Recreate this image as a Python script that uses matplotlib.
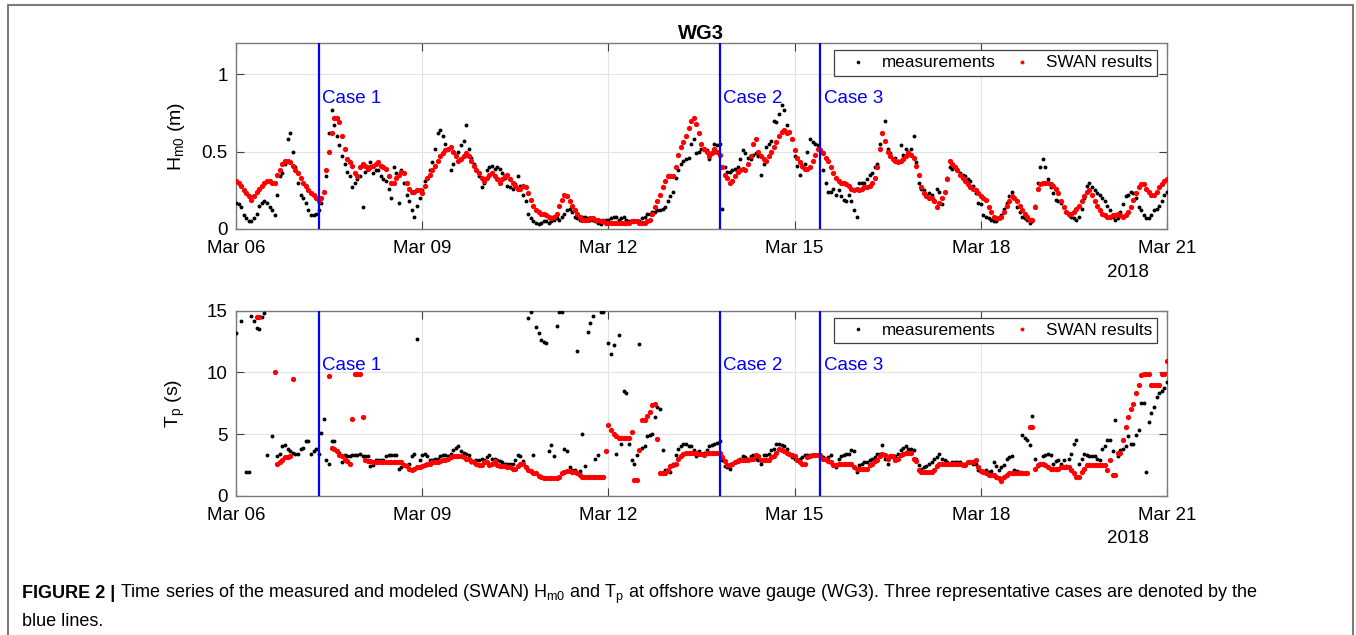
import numpy as np
import pandas as pd
import matplotlib
matplotlib.use('Agg')
import matplotlib.pyplot as plt
import matplotlib.dates as mdates
from matplotlib.lines import Line2D

plt.rcParams['font.family'] = 'Liberation Sans'
plt.rcParams['mathtext.fontset'] = 'custom'
plt.rcParams['mathtext.rm'] = 'Liberation Sans'
plt.rcParams['mathtext.it'] = 'Liberation Sans:italic'
plt.rcParams['mathtext.bf'] = 'Liberation Sans:bold'

nan = np.nan

# Hourly record, split into even hours (00h, 02h, ...) and odd hours (01h, 03h, ...)
tempo_par = pd.date_range('2018-03-06 00:00', '2018-03-21 00:00', freq='2h')
tempo_impar = pd.date_range('2018-03-06 01:00', '2018-03-20 23:00', freq='2h')

# Significant wave height Hm0 (m) - measurements
hs_medido = [
    0.17, 0.14, 0.07, 0.05, 0.10, 0.17, 0.17, 0.12, 0.22, 0.36, 0.58, 0.50,
    0.30, 0.20, 0.12, 0.09, 0.12, 0.24, 0.62, 0.67, 0.54, 0.42, 0.34, 0.30,
    0.34, 0.37, 0.43, 0.38, 0.34, 0.31, 0.20, 0.36, 0.38, 0.22, 0.12, 0.15,
    0.25, 0.33, 0.43, 0.62, 0.60, 0.52, 0.42, 0.50, 0.57, 0.52, 0.42, 0.34,
    0.30, 0.40, 0.39, 0.39, 0.33, 0.27, 0.29, 0.28, 0.18, 0.07, 0.04, 0.04,
    0.05, 0.05, 0.07, 0.08, 0.12, 0.11, 0.07, 0.08, 0.07, 0.06, 0.04, 0.06,
    0.06, 0.08, 0.06, 0.08, 0.05, 0.05, 0.05, 0.08, 0.10, 0.11, 0.12, 0.14,
    0.21, 0.33, 0.42, 0.45, 0.55, 0.49, 0.52, 0.51, 0.50, 0.54, 0.13, 0.37,
    0.38, 0.40, 0.51, 0.46, 0.48, 0.47, 0.42, 0.55, 0.70, 0.74, 0.77, 0.63,
    0.47, 0.35, 0.42, 0.58, 0.55, 0.52, 0.30, 0.24, 0.22, 0.21, 0.18, 0.18,
    0.08, 0.30, 0.32, 0.36, 0.42, 0.62, 0.52, 0.45, 0.44, 0.48, 0.50, 0.60,
    0.30, 0.25, 0.23, 0.19, 0.24, 0.24, 0.40, 0.40, 0.36, 0.34, 0.31, 0.23,
    0.16, 0.08, 0.06, 0.05, 0.09, 0.17, 0.24, 0.14, 0.08, 0.06, 0.05, 0.30,
    0.45, 0.32, 0.23, 0.18, 0.14, 0.09, 0.07, 0.08, 0.20, 0.30, 0.25, 0.22,
    0.18, 0.12, 0.06, 0.11, 0.21, 0.24, 0.20, 0.12, 0.07, 0.09, 0.13, 0.18,
    0.24,
]
hs_medido_impar = [
    0.16, 0.09, 0.05, 0.07, 0.15, 0.18, 0.14, 0.09, 0.34, 0.42, 0.62, 0.40,
    0.22, 0.17, 0.09, 0.10, 0.17, 0.34, 0.77, 0.60, 0.47, 0.37, 0.27, 0.32,
    0.14, 0.40, 0.36, 0.38, 0.32, 0.26, 0.40, 0.17, 0.30, 0.18, 0.08, 0.20,
    0.31, 0.38, 0.52, 0.64, 0.55, 0.38, 0.48, 0.54, 0.67, 0.46, 0.38, 0.27,
    0.38, 0.41, 0.40, 0.36, 0.28, 0.26, 0.34, 0.22, 0.10, 0.05, 0.03, 0.05,
    0.04, 0.06, 0.06, 0.10, 0.13, 0.08, 0.06, 0.08, 0.06, 0.05, 0.03, 0.06,
    0.07, 0.08, 0.07, 0.06, 0.05, 0.05, 0.07, 0.10, 0.11, 0.12, 0.13, 0.18,
    0.24, 0.38, 0.44, 0.46, 0.58, 0.50, 0.52, 0.45, 0.55, 0.55, 0.40, 0.37,
    0.39, 0.45, 0.49, 0.45, 0.49, 0.35, 0.53, 0.57, 0.69, 0.80, 0.67, 0.58,
    0.41, 0.40, 0.50, 0.56, 0.54, 0.38, 0.24, 0.26, 0.25, 0.19, 0.22, 0.12,
    0.30, 0.30, 0.35, 0.40, 0.55, 0.70, 0.49, 0.46, 0.54, 0.52, 0.52, 0.43,
    0.26, 0.22, 0.22, 0.26, 0.16, 0.33, 0.39, 0.38, 0.35, 0.32, 0.28, 0.17,
    0.09, 0.07, 0.05, 0.07, 0.13, 0.21, 0.20, 0.11, 0.07, 0.04, 0.15, 0.40,
    0.40, 0.27, 0.19, 0.17, 0.11, 0.08, 0.06, 0.13, 0.28, 0.27, 0.23, 0.20,
    0.15, 0.08, 0.07, 0.16, 0.22, 0.23, 0.14, 0.09, 0.07, 0.12, 0.15, 0.22,
]

# Significant wave height Hm0 (m) - SWAN
hs_swan = [
    0.31, 0.28, 0.23, 0.19, 0.24, 0.28, 0.31, 0.30, 0.35, 0.42, 0.44, 0.41,
    0.36, 0.30, 0.25, 0.22, 0.18, 0.24, 0.50, 0.72, 0.69, 0.52, 0.43, 0.36,
    0.40, 0.41, 0.40, 0.42, 0.41, 0.39, 0.30, 0.33, 0.37, 0.30, 0.24, 0.25,
    0.23, 0.33, 0.38, 0.44, 0.49, 0.52, 0.50, 0.44, 0.47, 0.47, 0.41, 0.36,
    0.31, 0.35, 0.34, 0.30, 0.34, 0.32, 0.28, 0.26, 0.27, 0.19, 0.12, 0.10,
    0.09, 0.07, 0.10, 0.19, 0.21, 0.15, 0.10, 0.06, 0.06, 0.07, 0.06, 0.05,
    0.04, 0.04, 0.04, 0.04, 0.04, 0.05, 0.04, 0.04, 0.06, 0.14, 0.22, 0.31,
    0.34, 0.40, 0.53, 0.60, 0.70, 0.68, 0.55, 0.50, 0.49, 0.50, 0.40, 0.33,
    0.31, 0.37, 0.39, 0.42, 0.55, 0.50, 0.45, 0.47, 0.53, 0.60, 0.64, 0.63,
    0.51, 0.43, 0.39, 0.40, 0.48, 0.51, 0.46, 0.40, 0.33, 0.30, 0.29, 0.26,
    0.26, 0.26, 0.27, 0.30, 0.40, 0.62, 0.50, 0.45, 0.43, 0.45, 0.49, 0.46,
    0.35, 0.23, 0.20, 0.18, 0.17, 0.24, 0.44, 0.40, 0.35, 0.31, 0.27, 0.25,
    0.21, 0.19, 0.11, 0.07, 0.08, 0.15, 0.21, 0.18, 0.12, 0.08, 0.06, 0.26,
    0.30, 0.30, 0.28, 0.23, 0.14, 0.10, 0.11, 0.15, 0.21, 0.25, 0.18, 0.12,
    0.09, 0.08, 0.09, 0.09, 0.09, 0.14, 0.23, 0.29, 0.26, 0.22, 0.24, 0.29,
    0.32,
]
hs_swan_impar = [
    0.30, 0.25, 0.21, 0.21, 0.26, 0.30, 0.31, 0.30, 0.38, 0.44, 0.43, 0.38,
    0.33, 0.28, 0.23, 0.20, 0.20, 0.38, 0.62, 0.72, 0.60, 0.45, 0.41, 0.34,
    0.42, 0.39, 0.41, 0.43, 0.40, 0.34, 0.30, 0.35, 0.36, 0.26, 0.24, 0.25,
    0.28, 0.35, 0.41, 0.47, 0.51, 0.53, 0.47, 0.45, 0.49, 0.44, 0.38, 0.33,
    0.33, 0.36, 0.32, 0.32, 0.35, 0.30, 0.26, 0.28, 0.23, 0.15, 0.11, 0.10,
    0.08, 0.08, 0.15, 0.22, 0.18, 0.12, 0.08, 0.06, 0.07, 0.06, 0.05, 0.04,
    0.04, 0.04, 0.04, 0.04, 0.05, 0.05, 0.04, 0.05, 0.10, 0.18, 0.27, 0.34,
    0.34, 0.48, 0.56, 0.65, 0.72, 0.62, 0.52, 0.47, 0.52, 0.48, 0.35, 0.30,
    0.34, 0.38, 0.38, 0.47, 0.58, 0.47, 0.44, 0.50, 0.56, 0.63, 0.62, 0.58,
    0.46, 0.41, 0.39, 0.44, 0.52, 0.49, 0.44, 0.36, 0.31, 0.30, 0.28, 0.25,
    0.25, 0.27, 0.28, 0.33, 0.52, 0.57, 0.47, 0.44, 0.44, 0.47, 0.48, 0.41,
    0.27, 0.21, 0.20, 0.14, 0.20, 0.32, 0.42, 0.38, 0.33, 0.29, 0.26, 0.23,
    0.20, 0.14, 0.08, 0.07, 0.11, 0.18, 0.20, 0.15, 0.10, 0.06, 0.14, 0.29,
    0.30, 0.29, 0.26, 0.18, 0.11, 0.10, 0.13, 0.18, 0.24, 0.22, 0.15, 0.10,
    0.08, 0.09, 0.10, 0.08, 0.11, 0.19, 0.27, 0.29, 0.24, 0.22, 0.27, 0.31,
]

# Peak period Tp (s) - measurements
tp_medido = [
    13.2, 14.2, 1.95, 14.6, 13.6, 14.5, 3.3, 4.8, 3.2, 4.0, 3.8, 3.5,
    3.4, 3.9, 4.4, 3.6, 3.4, 6.2, 2.6, 4.4, 3.5, 3.3, 3.2, 3.3,
    3.4, 3.2, 2.4, 2.9, 2.9, 3.2, 3.3, 3.3, 2.3, 2.5, 3.2, 12.7,
    3.3, 3.2, 2.9, 3.0, 3.3, 3.2, 3.7, 4.0, 3.5, 3.3, 2.8, 2.9,
    2.9, 3.3, 3.0, 2.8, 2.6, 2.6, 2.9, 3.2, 2.3, 14.9, 13.7, 12.6,
    12.4, 4.1, 13.8, 14.9, 3.6, 2.1, 11.7, 5.0, 13.3, 14.6, 3.3, 14.9,
    12.35, 12.2, 13.0, 8.5, 4.2, 2.6, 12.3, 4.0, 4.9, 6.4, 7.0, 2.1,
    1.95, 3.3, 4.0, 4.2, 4.0, 3.2, 3.4, 3.7, 4.1, 4.3, 2.9, 2.3,
    2.6, 2.9, 3.2, 3.0, 3.3, 2.9, 3.3, 3.4, 3.8, 4.2, 4.0, 3.4,
    3.0, 3.0, 3.3, 3.3, 3.3, 3.2, 2.9, 3.3, 2.35, 3.2, 3.4, 3.7,
    1.95, 2.6, 2.75, 3.0, 3.4, 4.1, 2.6, 3.1, 3.4, 3.9, 3.8, 3.7,
    2.5, 2.3, 2.6, 3.0, 3.4, 2.9, 2.6, 2.75, 2.75, 2.6, 2.75, 2.6,
    2.0, 2.1, 2.0, 2.4, 2.3, 3.0, 3.2, 2.0, 4.9, 4.5, 6.5, 2.4,
    3.2, 3.4, 2.6, 2.9, 2.9, 3.0, 4.2, 2.6, 3.4, 3.2, 3.2, 2.9,
    4.0, 4.5, 6.1, 3.7, 4.0, 4.2, 4.9, 7.5, 1.95, 6.7, 8.0, 8.5,
    9.2,
]
tp_medido_impar = [
    nan, nan, 1.95, 14.2, 13.5, 14.8, nan, nan, 3.4, 4.1, 3.6, 3.4,
    3.8, 4.4, 3.4, 3.8, 5.05, 2.9, 4.4, 3.6, 2.75, 3.2, 3.3, 3.3,
    3.2, 3.2, 2.5, 2.9, 2.9, 3.3, 3.3, 2.2, 2.5, 2.6, 3.4, 2.9,
    3.4, 2.9, 3.0, 3.2, 3.3, 3.4, 3.9, 3.6, 3.4, 2.75, 2.9, 3.0,
    3.1, 3.0, 2.9, 2.7, 2.6, 2.6, 3.3, 2.8, 14.4, 3.3, 13.2, 12.5,
    3.6, 3.2, 14.9, 3.8, 2.3, 2.1, 2.0, 2.4, 14.0, 3.0, 14.9, 3.6,
    11.5, 3.4, 4.2, 8.3, 2.9, 3.3, 3.9, 4.8, 5.0, 7.2, 3.7, 2.0,
    2.6, 3.8, 4.2, 4.0, 3.7, 3.6, 3.5, 4.0, 4.2, 4.4, 2.4, 2.2,
    2.7, 3.0, 3.1, 3.2, 3.0, 2.6, 3.3, 3.7, 4.2, 4.1, 3.8, 3.1,
    2.9, 3.1, 3.3, 3.3, 3.3, 3.1, 3.1, 2.6, 3.0, 3.3, 3.4, 3.6,
    2.5, 2.7, 2.9, 3.1, 3.4, 3.0, 3.2, 3.2, 3.7, 4.0, 3.8, 3.0,
    2.2, 2.4, 2.7, 3.1, 3.0, 2.7, 2.75, 2.75, 2.6, 2.7, 2.6, 2.1,
    2.0, 1.95, 2.75, 2.1, 2.5, 3.1, 2.1, 1.95, 4.7, 4.1, 3.0, 2.6,
    3.3, 3.3, 2.8, 2.6, 2.4, 3.4, 4.5, 3.0, 3.3, 3.2, 3.0, 3.8,
    4.5, 3.6, 3.2, 3.8, 4.8, 4.2, 5.3, 7.5, 6.0, 7.2, 8.3, 8.7,
]

# Peak period Tp (s) - SWAN
tp_swan = [
    nan, nan, nan, nan, 14.5, nan, nan, nan, 2.6, 2.9, 3.1, 9.5,
    nan, nan, nan, nan, nan, nan, 9.7, 3.8, 3.3, 2.9, 2.6, 9.9,
    9.9, 2.9, 2.8, 2.7, 2.7, 2.7, 2.7, 2.7, 2.7, 2.4, 2.1, 2.3,
    2.4, 2.6, 2.7, 2.7, 2.9, 3.0, 3.2, 3.2, 3.1, 3.0, 2.7, 2.5,
    2.7, 2.5, 2.8, 2.4, 2.4, 2.3, 2.2, 2.6, 2.3, 2.0, 1.8, 1.5,
    1.4, 1.4, 1.4, 1.8, 2.0, 1.95, 1.8, 1.55, 1.55, 1.55, 1.55, 1.55,
    5.7, 5.0, 4.65, 4.65, 4.65, 1.27, 3.7, 6.1, 6.8, 7.4, 1.8, 1.8,
    2.4, 2.6, 3.2, 3.5, 3.5, 3.5, 3.4, 3.5, 3.5, 3.5, 3.1, 2.5,
    2.6, 2.8, 2.9, 2.9, 3.0, 3.2, 2.9, 2.9, 3.2, 3.8, 3.6, 3.4,
    3.2, 2.75, 2.6, 3.2, 3.3, 3.3, 3.0, 2.75, 2.5, 2.6, 2.6, 2.6,
    2.2, 2.2, 2.2, 2.6, 2.9, 3.4, 3.0, 3.2, 3.0, 3.4, 3.5, 3.0,
    2.1, 1.9, 1.9, 2.1, 2.6, 2.6, 2.6, 2.6, 2.6, 2.5, 2.75, 2.9,
    2.0, 1.8, 1.7, 1.55, 1.2, 1.7, 1.8, 1.8, 1.8, 1.8, 5.6, 2.5,
    2.6, 2.3, 2.2, 2.2, 2.35, 2.35, 1.8, 1.55, 2.2, 2.5, 2.5, 2.5,
    2.5, 2.9, 1.7, 3.5, 5.6, 7.0, 8.3, 9.8, 9.9, 9.0, 9.0, 9.9,
    10.9,
]
tp_swan_impar = [
    nan, nan, nan, nan, 14.5, nan, nan, 10.0, 2.7, 3.1, 3.2, nan,
    nan, nan, nan, nan, nan, nan, 3.9, 3.6, 3.2, 2.8, 6.2, 9.9,
    6.4, 2.8, 2.7, 2.7, 2.7, 2.7, 2.7, 2.7, 2.5, 2.2, 2.2, 2.35,
    2.5, 2.6, 2.7, 2.8, 2.9, 3.1, 3.2, 3.2, 3.0, 2.8, 2.6, 2.5,
    2.7, 2.6, 2.5, 2.4, 2.3, 2.2, 2.4, 2.6, 2.1, 1.8, 1.6, 1.4,
    1.4, 1.4, 1.5, 1.9, 2.0, 1.9, 1.7, 1.55, 1.55, 1.55, 1.55, 3.6,
    5.3, 4.8, 4.65, 4.65, 5.2, 1.27, 6.1, 6.5, 7.35, 4.6, 1.8, 2.1,
    2.5, 3.0, 3.4, 3.5, 3.5, 3.4, 3.3, 3.5, 3.5, 3.5, 2.8, 2.5,
    2.7, 2.9, 2.9, 3.0, 3.3, 2.9, 2.9, 3.1, 3.5, 3.7, 3.5, 3.3,
    2.9, 2.6, 3.1, 3.3, 3.3, 3.0, 2.8, 2.5, 2.6, 2.6, 2.6, 2.3,
    2.2, 2.2, 2.5, 2.8, 3.2, 3.3, 3.2, 2.9, 3.3, 3.5, 3.5, 2.8,
    1.9, 1.9, 1.9, 2.4, 2.6, 2.6, 2.6, 2.6, 2.5, 2.75, 2.75, 2.35,
    1.9, 1.7, 1.7, 1.4, 1.5, 1.8, 1.8, 1.8, 1.8, 5.6, 2.2, 2.6,
    2.5, 2.2, 2.2, 2.35, 2.35, 2.1, 1.55, 1.95, 2.5, 2.5, 2.5, 2.5,
    2.1, 1.7, 3.5, 4.5, 6.4, 7.4, 9.0, 9.9, 9.9, 9.0, 9.0, 9.9,
]

# Representative cases
casos = ['Case 1', 'Case 2', 'Case 3']
casos_tempo = pd.to_datetime(['2018-03-07 08:00', '2018-03-13 19:00', '2018-03-15 10:00'])

tempo = tempo_par.append(tempo_impar)

W, H = 1356, 635
fig = plt.figure(figsize=(W / 100, H / 100), dpi=100)
ax1 = fig.add_axes([0.1740, 0.6394, 0.6866, 0.2924])
ax2 = fig.add_axes([0.1740, 0.2194, 0.6866, 0.2913])

cinza = '#7a7a7a'


def desenha(ax, medido, swan, ymax, yticks, yticklabels, ylabel):
    ax.plot(tempo, medido, ls='none', marker='o', ms=2.8, mew=0, color='black', zorder=3)
    ax.plot(tempo, swan, ls='none', marker='o', ms=3.8, mew=0, color='red', zorder=4)
    for nome, t in zip(casos, casos_tempo):
        ax.axvline(t, color='blue', lw=1.6, zorder=5)
        ax.annotate(nome, xy=(mdates.date2num(t), 0.705),
                    xycoords=('data', 'axes fraction'),
                    xytext=(2.5, 0), textcoords='offset points',
                    ha='left', va='center', color='blue', fontsize=13.5)
    ax.set_xlim(pd.Timestamp('2018-03-06'), pd.Timestamp('2018-03-21'))
    ax.set_ylim(0, ymax)
    ax.set_yticks(yticks)
    ax.set_yticklabels(yticklabels)
    ax.xaxis.set_major_locator(mdates.DayLocator(bymonthday=[6, 9, 12, 15, 18, 21]))
    ax.xaxis.set_major_formatter(mdates.DateFormatter('%b %d'))
    ax.grid(True, color='#e3e3e3', lw=0.8, zorder=0)
    ax.set_axisbelow(True)
    ax.tick_params(direction='in', length=6, width=0.8, color='#404040',
                   top=True, right=True, labelsize=13.5, labelcolor='black')
    ax.tick_params(axis='x', pad=8)
    ax.tick_params(axis='y', pad=6)
    for s in ax.spines.values():
        s.set_color(cinza)
        s.set_linewidth(1.0)
    ax.set_ylabel(ylabel, fontsize=14)
    ax.yaxis.set_label_coords(-0.053, 0.5)
    ax.text(0.958, -0.232, '2018', transform=ax.transAxes, ha='center', va='center',
            fontsize=13.5)
    pontos = [Line2D([], [], ls='none', marker='o', ms=2.6, mew=0, color='black'),
              Line2D([], [], ls='none', marker='o', ms=2.8, mew=0, color='red')]
    leg = ax.legend(pontos, ['measurements', 'SWAN results'], ncol=2,
                    loc='upper right', bbox_to_anchor=(0.9893, 0.962),
                    borderaxespad=0, borderpad=0.3, handlelength=2.2,
                    handletextpad=0.3, columnspacing=0.4, fontsize=12.3,
                    fancybox=False, framealpha=1)
    leg.get_frame().set_edgecolor('#404040')
    leg.get_frame().set_linewidth(0.9)
    leg.set_zorder(6)


desenha(ax1, hs_medido + hs_medido_impar, hs_swan + hs_swan_impar,
        1.2, [0, 0.5, 1], ['0', '0.5', '1'], r'H$_{\rm m0}$ (m)')
desenha(ax2, tp_medido + tp_medido_impar, tp_swan + tp_swan_impar,
        15, [0, 5, 10, 15], ['0', '5', '10', '15'], r'T$_{\rm p}$ (s)')
ax1.set_title('WG3', fontsize=14.5, fontweight='bold', pad=3)

# Page frame around the figure
fig.add_artist(Line2D([8 / W, 8 / W, 1353 / W, 1353 / W],
                      [0, 1 - 5 / H, 1 - 5 / H, 0],
                      transform=fig.transFigure, color=cinza, lw=1.5))

# Caption
fs = 13
t1 = fig.text(22 / W, 1 - 598 / H, 'FIGURE 2 |', fontsize=fs, fontweight='bold', va='baseline')
fig.canvas.draw()
bb = t1.get_window_extent()
fig.text((bb.x1 + 5) / W, 1 - 598 / H,
         r'Time series of the measured and modeled (SWAN) H$_{\rm m0}$ and T$_{\rm p}$ at '
         r'offshore wave gauge (WG3). Three representative cases are denoted by the',
         fontsize=fs, va='baseline')
fig.text(22 / W, 1 - 626 / H, 'blue lines.', fontsize=fs, va='baseline')

plt.savefig('out.png', dpi=100)
plt.close()
